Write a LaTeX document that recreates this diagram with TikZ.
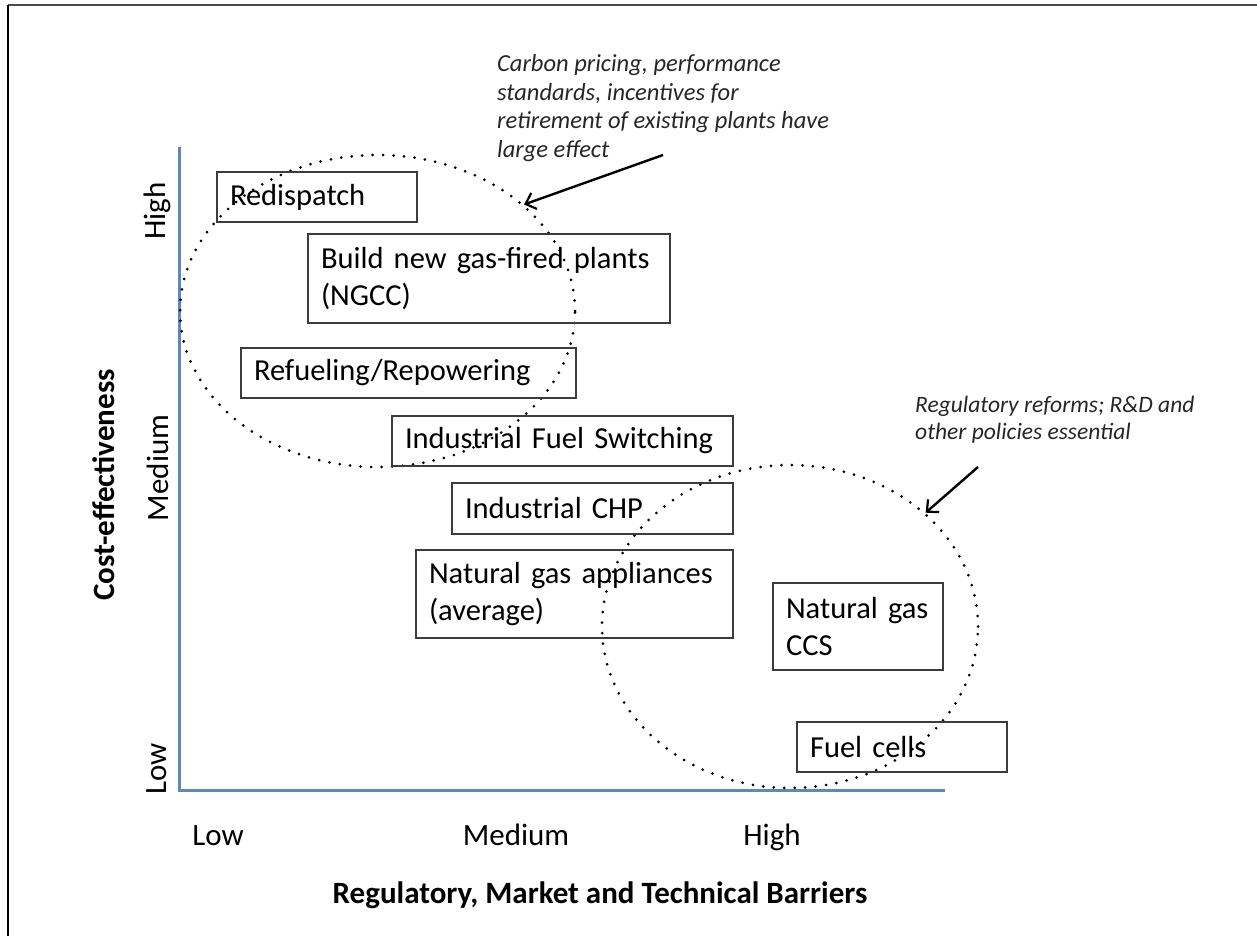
\documentclass[tikz,border=0pt]{standalone}
\usepackage{fontspec}
\setmainfont{Carlito}
\usetikzlibrary{shapes.geometric,arrows.meta}
\hyphenpenalty=10000
\exhyphenpenalty=10000
\definecolor{axisblue}{RGB}{95,135,190}
\definecolor{boxline}{RGB}{60,60,60}
\tikzset{
  cbox/.style={draw=boxline, line width=1.4pt, rectangle, inner xsep=13pt, inner ysep=0pt,
    align=left, font=\fontsize{30.5}{37}\selectfont},
  dotring/.style={draw=black, ellipse, inner sep=0pt, line width=3pt, line cap=round,
    dash pattern=on 0pt off 10.5pt},
  axisline/.style={draw=axisblue, line width=3pt},
  axlab/.style={font=\fontsize{31}{36}\selectfont, inner sep=0pt},
  axtitle/.style={font=\bfseries\fontsize{31}{36}\selectfont, inner sep=0pt},
  note/.style={font=\itshape\fontsize{24.5}{28.5}\selectfont, align=left, inner sep=0pt, text=black!85},
  pointer/.style={draw=black, line width=2.4pt, -{Straight Barb[length=9pt,width=17pt,line width=2.2pt]}},
  frameline/.style={draw=black, line width=2.4pt}
}
\begin{document}
\begin{tikzpicture}[x=1pt,y=-1pt]
\useasboundingbox (0,0) rectangle (1257,936);
% frame (top and left only)
\coordinate (fTL) at (8,5);
\coordinate (fTR) at (1257,5);
\coordinate (fBL) at (8,936);
\draw[frameline, draw=black!70, line width=2pt] (fTL) -- (fTR);
\draw[frameline] (fTL) -- (fBL);

% axes
\coordinate (ytop) at (179,147);
\coordinate (orig) at (179,790);
\coordinate (xend) at (945,790);
\draw[axisline] (ytop) -- (orig) -- (xend);

% ellipses
\node[dotring, minimum width=395pt, minimum height=312pt] (e1) at (377.5,311) {};
\node[dotring, minimum width=376pt, minimum height=323pt] (e2) at (790,626.5) {};

% boxes
\node[cbox, minimum height=50pt, text width=174pt] (redis) at (317,197) {Redispatch};
\node[cbox, minimum height=89pt, text width=336pt] (ngcc) at (489,278.5) {Build new gas-fired plants\\(NGCC)};
\node[cbox, minimum height=50pt, text width=309pt] (refuel) at (408.5,373) {Refueling/Repowering};
\node[cbox, minimum height=50pt, text width=315pt] (ifs) at (562.5,441) {Industrial Fuel Switching};
\node[cbox, minimum height=51pt, text width=255pt] (chp) at (592.5,508.5) {Industrial CHP};
\node[cbox, minimum height=88pt, text width=291pt] (appl) at (574.5,594) {Natural gas appliances\\(average)};
\node[cbox, minimum height=87pt, text width=144pt] (ccs) at (858,626.5) {Natural gas\\CCS};
\node[cbox, minimum height=50pt, text width=184pt] (fuel) at (902,747) {Fuel cells};

% axis labels
\node[axlab, rotate=90] (yhigh) at (157,211) {High};
\node[axlab, rotate=90] (ymed) at (158,468) {Medium};
\node[axlab, rotate=90] (ylow) at (157,769) {Low};
\node[axtitle, rotate=90] (ytitle) at (104,485) {Cost-effectiveness};
\node[axlab, anchor=base] (xlow) at (218,845) {Low};
\node[axlab, anchor=base] (xmed) at (516,845) {Medium};
\node[axlab, anchor=base] (xhigh) at (772,845) {High};
\node[axtitle, anchor=base] (xtitle) at (600,903) {Regulatory, Market and Technical Barriers};

% annotations
\node[note, anchor=west] (n1) at (497,108) {Carbon pricing, performance\\standards, incentives for\\retirement of existing plants have\\large effect};
\node[note, anchor=west, font=\itshape\fontsize{23.5}{27}\selectfont] (n2) at (915,420) {Regulatory reforms; R\&D and\\other policies essential};

\coordinate (a1s) at (663,155);
\coordinate (a2s) at (978,467);
\draw[pointer] (a1s) -- (e1.36);
\draw[pointer] (a2s) -- (e2.40);
\end{tikzpicture}
\end{document}
